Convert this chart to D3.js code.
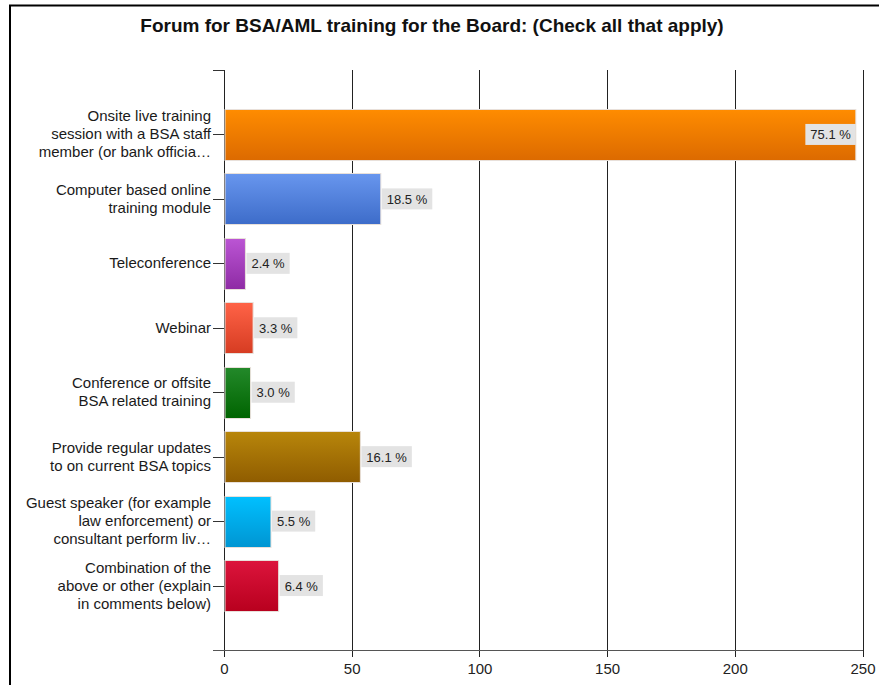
<!DOCTYPE html>
<html>
<head>
<meta charset="utf-8">
<script src="https://cdn.jsdelivr.net/npm/d3@7"></script>
<style>
  body { margin: 0; background: #fff; }
  svg text { font-family: "Liberation Sans", Arial, sans-serif; }
</style>
</head>
<body>
<div id="chart"></div>
<script>
// chart data
var categories = [
  ["Onsite live training", "session with a BSA staff", "member (or bank officia\u2026"],
  ["Computer based online", "training module"],
  ["Teleconference"],
  ["Webinar"],
  ["Conference or offsite", "BSA related training"],
  ["Provide regular updates", "to on current BSA topics"],
  ["Guest speaker (for example", "law enforcement) or", "consultant perform liv\u2026"],
  ["Combination of the", "above or other (explain", "in comments below)"]
];
var counts = [247, 61, 8, 11, 10, 53, 18, 21];
var percents = ["75.1 %", "18.5 %", "2.4 %", "3.3 %", "3.0 %", "16.1 %", "5.5 %", "6.4 %"];
var xTicks = [0, 50, 100, 150, 200, 250];
var barColors = [
  ["#ff8c00", "#dc6a00"],
  ["#6896ee", "#3d6cc9"],
  ["#bb55d4", "#8e2ba4"],
  ["#ff6347", "#d63c22"],
  ["#23892a", "#006400"],
  ["#b8860b", "#8f5c00"],
  ["#00c0ff", "#0095d2"],
  ["#dc143c", "#b8001e"]
];

var svgWidth = 879, svgHeight = 685;
var margin = { top: 70, left: 224, right: 16.5, bottom: 35 };

var svg = d3.select("#chart").append("svg")
  .attr("width", svgWidth)
  .attr("height", svgHeight);

// outer frame
svg.append("rect")
  .attr("x", 10).attr("y", 5.5)
  .attr("width", 900).attr("height", 700)
  .attr("fill", "none")
  .attr("stroke", "#000")
  .attr("stroke-width", 2);

svg.append("text")
  .attr("x", 432).attr("y", 32)
  .attr("text-anchor", "middle")
  .attr("font-size", "19px")
  .attr("font-weight", "bold")
  .attr("fill", "#111")
  .text("Forum for BSA/AML training for the Board: (Check all that apply)");

var plotBottom = svgHeight - margin.bottom;
var xScale = d3.scaleLinear()
  .domain([0, 250])
  .range([margin.left, svgWidth - margin.right]);

var yScale = d3.scalePoint()
  .domain(d3.range(categories.length))
  .range([margin.top, plotBottom])
  .padding(1);

var barH = 51;

// gradients
var defs = svg.append("defs");
barColors.forEach(function(c, i) {
  var g = defs.append("linearGradient")
    .attr("id", "grad" + i)
    .attr("x1", 0).attr("y1", 0).attr("x2", 0).attr("y2", 1);
  g.append("stop").attr("offset", "0%").attr("stop-color", c[0]);
  g.append("stop").attr("offset", "100%").attr("stop-color", c[1]);
});

// vertical grid lines
svg.append("g")
  .selectAll("line")
  .data(xTicks)
  .enter()
  .append("line")
  .attr("x1", d => Math.round(xScale(d)) + 0.5)
  .attr("x2", d => Math.round(xScale(d)) + 0.5)
  .attr("y1", margin.top)
  .attr("y2", plotBottom + 7)
  .attr("stroke", "#222")
  .attr("stroke-width", 1);

// y axis ticks
svg.append("line")
  .attr("x1", 213).attr("x2", xScale(0) + 0.5)
  .attr("y1", margin.top + 0.5).attr("y2", margin.top + 0.5)
  .attr("stroke", "#333");

svg.append("g")
  .selectAll("line")
  .data(d3.range(categories.length))
  .enter()
  .append("line")
  .attr("x1", 213).attr("x2", xScale(0))
  .attr("y1", d => Math.round(yScale(d)) + 0.5)
  .attr("y2", d => Math.round(yScale(d)) + 0.5)
  .attr("stroke", "#333");

// x axis line
svg.append("line")
  .attr("x1", 213).attr("x2", xScale(250) + 0.5)
  .attr("y1", plotBottom + 0.5).attr("y2", plotBottom + 0.5)
  .attr("stroke", "#555");

svg.append("g")
  .selectAll("text")
  .data(xTicks)
  .enter()
  .append("text")
  .attr("x", d => xScale(d) + 0.5)
  .attr("y", plotBottom + 24)
  .attr("text-anchor", "middle")
  .attr("font-size", "15px")
  .attr("fill", "#222")
  .text(d => d);

// bars
svg.append("g")
  .selectAll("rect")
  .data(counts)
  .enter()
  .append("rect")
  .attr("x", xScale(0) + 1)
  .attr("y", (d, i) => Math.round(yScale(i) - barH / 2) + 0.5)
  .attr("width", d => xScale(d) - xScale(0))
  .attr("height", barH)
  .attr("fill", (d, i) => "url(#grad" + i + ")")
  .attr("stroke", "#e8e0da")
  .attr("stroke-width", 1);

// category labels
var labels = svg.append("g")
  .selectAll("text")
  .data(categories)
  .enter()
  .append("text")
  .attr("text-anchor", "end")
  .attr("font-size", "15px")
  .attr("fill", "#1a1a1a");

labels.each(function(lines, i) {
  var t = d3.select(this);
  var lh = 18;
  var y0 = yScale(i) - (lines.length - 1) * lh / 2 + 5;
  lines.forEach(function(l, j) {
    t.append("tspan")
      .attr("x", 211)
      .attr("y", y0 + j * lh)
      .text(l);
  });
});

// value labels
var valueGroup = svg.append("g");
counts.forEach(function(d, i) {
  var g = valueGroup.append("g");
  var txt = g.append("text")
    .attr("font-size", "13px")
    .attr("fill", "#222")
    .attr("y", yScale(i) + 5)
    .text(percents[i]);
  var w = txt.node().getComputedTextLength() + 10;
  var inside = xScale(d) + 3 + w > xScale(250);
  var bx = inside ? xScale(d) + 1 - w : xScale(d) + 2;
  g.insert("rect", "text")
    .attr("x", bx)
    .attr("y", yScale(i) - 10.5)
    .attr("width", w)
    .attr("height", 21)
    .attr("fill", "#e3e3e3");
  txt.attr("x", bx + 5);
});
</script>
</body>
</html>
